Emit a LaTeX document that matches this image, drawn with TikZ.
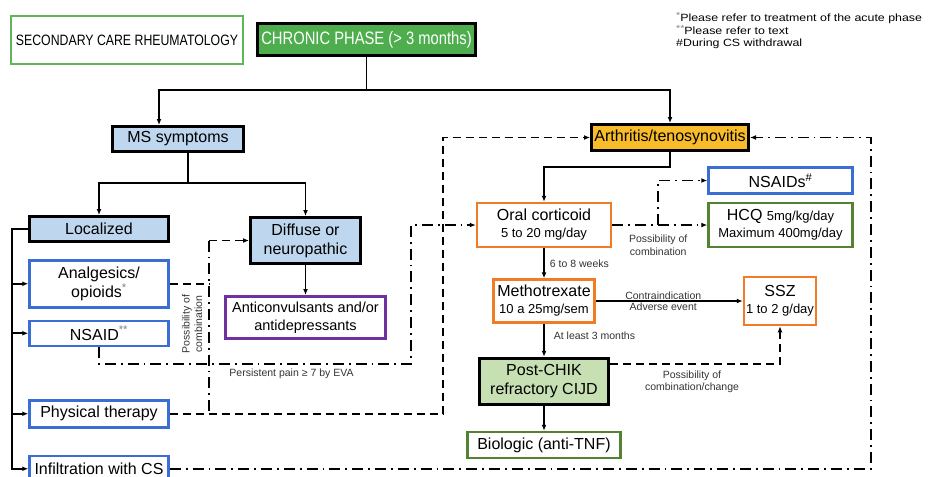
\documentclass[tikz,border=0pt]{standalone}
\usepackage{fontspec}
\setmainfont{Liberation Sans}
\newfontfamily\narrowsans[FakeStretch=0.82]{Liberation Sans}
\newfontfamily\widesans[FakeStretch=1.18]{Liberation Sans}
\usepackage{xcolor}
\usepackage{tikz}
\usetikzlibrary{arrows.meta,positioning}

\definecolor{careGreen}{RGB}{92,182,92}
\definecolor{phaseGreen}{RGB}{78,174,78}
\definecolor{symptomBlue}{RGB}{190,215,238}
\definecolor{drugBlue}{RGB}{58,110,212}
\definecolor{drugOrange}{RGB}{240,124,40}
\definecolor{drugPurple}{RGB}{112,48,160}
\definecolor{drugGreen}{RGB}{82,130,50}
\definecolor{arthGold}{RGB}{248,188,42}
\definecolor{refractGreen}{RGB}{198,224,180}

\newcommand{\boxfont}{\fontsize{16}{19}\selectfont}
\newcommand{\dosefont}{\fontsize{13}{16}\selectfont}
\newcommand{\greystar}[1]{\textcolor{black!50}{\textsuperscript{#1}}}
\newcommand{\notestar}[1]{\textcolor{black!50}{\raisebox{3.5pt}{\fontsize{9}{9}\selectfont#1}}}

\tikzset{
    stageBox/.style={
        draw=black,
        line width=3pt,
        align=center,
        inner sep=1pt,
        font=\boxfont,
        fill=symptomBlue
    },
    drugBox/.style={
        draw=drugBlue,
        line width=2.5pt,
        align=center,
        inner sep=1pt,
        font=\boxfont,
        fill=white
    },
    flowArrow/.style={
        -{Latex[length=6pt,width=5pt]},
        line width=1.8pt
    },
    flowDashed/.style={
        line width=1.8pt,
        dash pattern=on 8pt off 5pt
    },
    flowDashDot/.style={
        line width=1.8pt,
        dash pattern=on 11pt off 5pt on 1.8pt off 5pt
    },
    noteText/.style={
        font=\fontsize{10.5}{12.5}\selectfont,
        text=black!80,
        align=center,
        inner sep=1pt
    }
}

\begin{document}
\begin{tikzpicture}[x=1pt,y=1pt]
    \useasboundingbox (0,0) rectangle (930,-477);

    % headings
    \node[draw=careGreen,line width=2.5pt,minimum width=232pt,minimum height=48pt,inner sep=0pt,font=\narrowsans\fontsize{15}{18}\selectfont] (care) at (127,-40) {SECONDARY CARE RHEUMATOLOGY};
    \node[stageBox,fill=phaseGreen,text=white,minimum width=218pt,minimum height=32pt,font=\narrowsans\fontsize{18}{20}\selectfont] (chronic) at (366.5,-39.5) {CHRONIC PHASE (> 3 months)};
    \node[anchor=north west,align=left,inner sep=0pt,font=\widesans\fontsize{10.5}{11.6}\selectfont] (notes) at (676,-12) {\notestar{*}Please refer to treatment of the acute phase\\\notestar{**}Please refer to text\\\#During CS withdrawal};

    % musculoskeletal side
    \node[stageBox,minimum width=131pt,minimum height=25pt] (ms) at (178,-139) {MS symptoms};
    \node[stageBox,minimum width=139pt,minimum height=25pt] (loc) at (99,-229) {Localized};
    \node[stageBox,minimum width=110pt,minimum height=46pt] (diff) at (305.5,-240.5) {Diffuse or\\neuropathic};
    \node[drugBox,minimum width=139pt,minimum height=47pt,below=16pt of loc] (anal) {Analgesics/\\opioids\greystar{*}};
    \node[drugBox,minimum width=139pt,minimum height=25pt,below=11pt of anal] (nsaid) {NSAID\greystar{**}};
    \node[drugBox,minimum width=139pt,minimum height=27pt,below=52pt of nsaid] (phys) {Physical therapy};
    \node[drugBox,minimum width=139pt,minimum height=26pt,below=26pt of phys] (infil) {Infiltration with CS};
    \node[drugBox,draw=drugPurple,minimum width=160pt,minimum height=42pt,below=30pt of diff,font=\fontsize{14.5}{18}\selectfont] (anti) {Anticonvulsants and/or\\antidepressants};

    % arthritis side
    \node[stageBox,fill=arthGold,minimum width=157pt,minimum height=26pt] (arth) at (670,-137.5) {Arthritis/tenosynovitis};
    \node[drugBox,draw=drugOrange,minimum width=134pt,minimum height=44pt] (oral) at (544,-225) {Oral corticoid\\[-2pt]{\dosefont 5 to 20 mg/day}};
    \node[drugBox,draw=drugGreen,minimum width=144pt,minimum height=44pt,right=95pt of oral] (hcq) {HCQ {\dosefont 5mg/kg/day}\\[-2pt]{\dosefont Maximum 400mg/day}};
    \node[drugBox,minimum width=144pt,minimum height=26pt,above=7pt of hcq] (nsaids) {NSAIDs\textsuperscript{\#}};
    \node[drugBox,draw=drugOrange,minimum width=101pt,minimum height=43pt,below=30pt of oral] (mtx) {Methotrexate\\[-2pt]{\dosefont 10 a 25mg/sem}};
    \node[drugBox,draw=drugOrange,minimum width=72pt,minimum height=48pt,right=147pt of mtx] (ssz) {SSZ\\[-2pt]{\dosefont 1 to 2 g/day}};
    \node[stageBox,fill=refractGreen,minimum width=129pt,minimum height=46pt,below=33pt of mtx] (post) {Post-CHIK\\refractory CIJD};
    \node[drugBox,draw=drugGreen,minimum width=153pt,minimum height=26pt,below=25pt of post] (bio) {Biologic (anti-TNF)};

    % helper points
    \coordinate[below=33pt of chronic.south] (topfork);
    \coordinate (msdrop) at ([xshift=10pt]ms.south);
    \coordinate[below=30pt of msdrop] (msfork);
    \coordinate[left=16pt of loc.west] (bus);
    \coordinate[left=40pt of diff.west] (combtop);
    \coordinate[left=33pt of oral.west] (ptcol);
    \coordinate[left=65pt of oral.west] (nscol);
    \coordinate[below=17pt of nsaid.south] (painrow);
    \coordinate[right=17pt of hcq.east] (rcol);
    \coordinate[below=15pt of arth.south] (arthfork);
    \coordinate[right=46pt of oral.east] (nsbranch);

    % solid tree
    \draw[flowArrow] (chronic.south) -- (topfork) -| ([xshift=-19pt]ms.north);
    \draw[flowArrow] (topfork) -| (arth.north);
    \draw[line width=1.8pt] (msdrop) -- (msfork);
    \draw[flowArrow] (msfork) -| (loc.north);
    \draw[flowArrow] (msfork) -| (diff.north);
    \draw[flowArrow] (diff.south) -- (anti.north);
    \draw[flowArrow] (loc.west) -- (bus) |- (infil.west);
    \foreach \n in {anal,nsaid,phys}
        \draw[flowArrow] (bus |- \n.west) -- (\n.west);

    \draw[flowArrow] (arth.south) -- (arthfork) -| (oral.north);
    \draw[flowArrow] (oral.south) -- (mtx.north)
        node[noteText,pos=0.5,right=4pt] (weekslbl) {6 to 8 weeks};
    \draw[flowArrow] (mtx.south) -- (post.north)
        node[noteText,pos=0.35,right=8pt] (monthslbl) {At least 3 months};
    \draw[flowArrow] (mtx.east) -- (ssz.west)
        node[noteText,midway,above=0pt,xshift=-6pt] (contralbl) {Contraindication}
        node[noteText,midway,below=0pt,xshift=-6pt] (adverselbl) {Adverse event};
    \draw[flowArrow] (post.south) -- (bio.north);

    % combinations on the left
    \draw[flowDashed] (anal.east) -- (anal.east -| combtop);
    \draw[flowDashed,-{Latex[length=6pt,width=5pt]}] (combtop) -- (diff.west);
    \draw[flowDashDot] (combtop) -- (combtop |- phys.east);
    \node[noteText,rotate=90] (combolbl) at (192,-324) {Possibility of\\combination};
    \draw[flowDashDot,-{Latex[length=6pt,width=5pt]}] (nsaid.south) -- (painrow) -- (painrow -| nscol) -- (nscol |- oral.west) -- (oral.west);
    \node[noteText] (painlbl) at (291.5,-374) {Persistent pain ≥ 7 by EVA};
    \draw[flowDashed,-{Latex[length=6pt,width=5pt]}] (phys.east) -| (ptcol |- arth.west) -- (arth.west);
    \draw[flowDashDot,-{Latex[length=6pt,width=5pt]}] (infil.east) -| (rcol |- arth.east) -- (arth.east);

    % combinations on the right
    \draw[flowDashDot,-{Latex[length=6pt,width=5pt]}] (oral.east) -- (hcq.west);
    \draw[flowDashDot,-{Latex[length=6pt,width=5pt]}] (nsbranch) |- (nsaids.west);
    \node[noteText,below=9pt of nsbranch] (combolbl2) {Possibility of\\combination};
    \draw[flowDashed,-{Latex[length=6pt,width=5pt]}] ([yshift=17pt]post.east) -| (ssz.south);
    \node[noteText] (changelbl) at (692,-382) {Possibility of\\combination/change};
\end{tikzpicture}
\end{document}
